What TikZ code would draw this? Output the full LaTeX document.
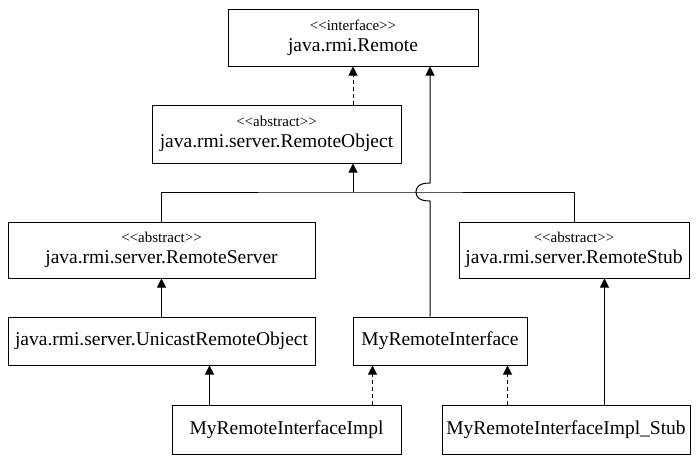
\documentclass[tikz,border=0pt]{standalone}
\usepackage{fontspec}
\setmainfont{Liberation Serif}
\usetikzlibrary{arrows.meta}
\newcommand\stereo[1]{{\fontsize{15}{15}\selectfont\textless\kern0pt\textless#1\textgreater\kern0pt\textgreater}}
\begin{document}
\begin{tikzpicture}[x=1pt,y=-1pt,line width=1pt,
  cls/.style={draw,inner sep=0pt,align=center,font=\fontsize{19.5}{21}\selectfont},
  gen/.style={-{Triangle[width=9pt,length=9pt]}},
  realize/.style={gen,dash pattern=on 4pt off 3pt}]
  \useasboundingbox (0,0) rectangle (699,461);
  % top
  %boxes
  \node[cls,minimum width=250,minimum height=57,at={(353,37.5)}] (remote) {\stereo{interface}\\java.rmi.Remote};
  \node[cls,minimum width=249,minimum height=58,at={(276.5,134)}] (robj) {\stereo{abstract}\\java.rmi.server.RemoteObject};
  %edges
  \coordinate (bar) at (353,192);
  \coordinate (jump) at (430,192);
  \draw[realize] (robj.north -| bar) -- (remote.south -| bar);
  \draw[gen] (bar) -- (robj.south -| bar);

  % middle
  %boxes
  \node[cls,minimum width=307,minimum height=56,at={(161.5,250)}] (rserver) {\stereo{abstract}\\java.rmi.server.RemoteServer};
  \node[cls,minimum width=230,minimum height=56,at={(574,250)}] (rstub) {\stereo{abstract}\\java.rmi.server.RemoteStub};
  \node[cls,minimum width=307,minimum height=48,at={(161.5,341)}] (unicast) {java.rmi.server.UnicastRemoteObject};
  \node[cls,minimum width=174,minimum height=48,at={(440,341)}] (myri) {MyRemoteInterface};
  %edges
  \draw (rserver.north) |- (bar) -| (rstub.north);
  \draw[gen] (myri.north -| jump) -- ([yshift=-9pt]jump)
    .. controls +(-12,0) and +(0,4) .. ([xshift=-14pt]jump)
    .. controls +(0,-4) and +(-12,0) .. ([yshift=9pt]jump) -- (remote.south -| jump);
  \draw[gen] (unicast.north) -- (rserver.south);

  % bottom
  %boxes
  \node[cls,minimum width=229,minimum height=49,at={(286.5,429.5)}] (impl) {MyRemoteInterfaceImpl};
  \node[cls,minimum width=248,minimum height=49,at={(566,429.5)}] (stub) {MyRemoteInterfaceImpl\_Stub};
  %edges
  \coordinate (implU) at ([xshift=38pt]impl.north west);
  \coordinate (implI) at ([xshift=201pt]impl.north west);
  \coordinate (stubI) at ([xshift=66pt]stub.north west);
  \coordinate (stubS) at ([xshift=163pt]stub.north west);
  \draw[gen] (implU) -- (unicast.south -| implU);
  \draw[realize] (implI) -- (myri.south -| implI);
  \draw[realize] (stubI) -- (myri.south -| stubI);
  \draw[gen] (stubS) -- (rstub.south -| stubS);
\end{tikzpicture}
\end{document}
